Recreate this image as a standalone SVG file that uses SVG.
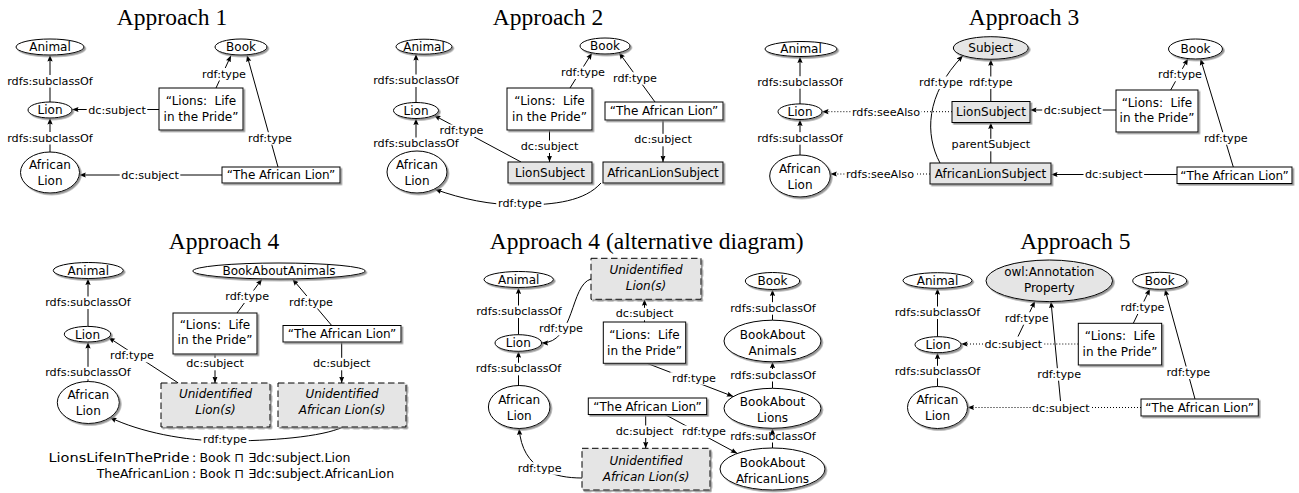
<svg xmlns="http://www.w3.org/2000/svg" width="1299" height="493" viewBox="0 0 1299 493">
<defs>
<style>
.n{fill:#fff;stroke:#000;stroke-width:1;filter:url(#sh)}
.g{fill:#e5e5e5}
.dash{stroke-dasharray:6.5 3.5}
.t{font-family:'DejaVu Sans',sans-serif;font-size:12px;text-anchor:middle;fill:#000}
.i{font-style:italic}
.l{font-family:'DejaVu Sans',sans-serif;font-size:11.2px;text-anchor:middle;fill:#000}
.e{fill:none;stroke:#000;stroke-width:1}
.a{marker-end:url(#ar)}
.dot{stroke-dasharray:1 2}
.lb{fill:#fff}
.ttl{font-family:'Liberation Serif',serif;font-size:23.5px;text-anchor:middle;fill:#000}
.f{font-family:'DejaVu Sans',sans-serif;font-size:12.5px;fill:#000}
</style>
<marker id="ar" viewBox="0 0 10 10" refX="10" refY="5" markerWidth="6.5" markerHeight="6.5" markerUnits="userSpaceOnUse" orient="auto"><path d="M0,1 L10,5 L0,9 L1.5,5 z" fill="#000"/></marker>
<filter id="sh" x="-20%" y="-20%" width="140%" height="140%"><feDropShadow dx="1.6" dy="1.6" stdDeviation="0.6" flood-color="#808080" flood-opacity="0.85"/></filter>
</defs>
<rect width="1299" height="493" fill="#fff"/>

<g id="approach-1">
<text class="ttl" x="172" y="25">Approach 1</text>
<g id="a1-connectors">
<path class="e" d="M50,102V87.5"/><path class="e a" d="M50,75V55"/><text class="l" x="50" y="84.5">rdfs:subclassOf</text>
<path class="e" d="M50,152V144.5"/><path class="e a" d="M50,132V118"/><text class="l" x="50" y="141.5">rdfs:subclassOf</text>
<path class="e" d="M159,109.5H147.3"/><path class="e a" d="M86.7,109.5H72"/><text class="l" x="117" y="113.5">dc:subject</text>
<path class="e a" d="M216,88L231,55.5"/><rect class="lb" x="200.25" y="68" width="47.5" height="12.5"/><text class="l" x="224" y="77.5">rdf:type</text>
<path class="e a" d="M278,167L247,55.3"/><rect class="lb" x="246.25" y="132.2" width="47.5" height="12.5"/><text class="l" x="270" y="141.7">rdf:type</text>
<path class="e" d="M222,175H180.3"/><path class="e a" d="M119.7,175H79.3"/><text class="l" x="150" y="178.5">dc:subject</text>
</g>
<g id="a1-animal"><ellipse class="n" cx="50" cy="47" rx="34" ry="8"/><text class="t" x="50" y="51.4">Animal</text></g>
<g id="a1-book"><ellipse class="n" cx="241" cy="47" rx="26" ry="8"/><text class="t" x="241" y="51.4">Book</text></g>
<g id="a1-lion"><ellipse class="n" cx="50" cy="110" rx="22" ry="8"/><text class="t" x="50" y="114.4">Lion</text></g>
<g id="a1-african-lion"><ellipse class="n" cx="50" cy="172.5" rx="29.5" ry="20.5"/><text class="t" x="50" y="169">African</text><text class="t" x="50" y="185">Lion</text></g>
<g id="a1-book-lions"><rect class="n" x="159" y="88" width="84" height="42"/><text class="t" x="201" y="104.5">“Lions:&#160; Life</text><text class="t" x="201" y="120.5">in the Pride”</text></g>
<g id="a1-book-african"><rect class="n" x="222" y="167" width="118" height="16"/><text class="t" x="281" y="179.4">“The African Lion”</text></g>
</g>

<g id="approach-2">
<text class="ttl" x="548" y="25">Approach 2</text>
<g id="a2-connectors">
<path class="e" d="M416,102.5V87"/><path class="e a" d="M416,74.5V54"/><text class="l" x="416" y="84">rdfs:subclassOf</text>
<path class="e a" d="M416,137.5V118.5"/><text class="l" x="416" y="147">rdfs:subclassOf</text>
<path class="e a" d="M521,162L434,115.3"/><rect class="lb" x="437.75" y="124.5" width="47.5" height="12.5"/><text class="l" x="461.5" y="134">rdf:type</text>
<path class="e a" d="M570,88L592,53"/><rect class="lb" x="559.25" y="66.5" width="47.5" height="12.5"/><text class="l" x="583" y="76">rdf:type</text>
<path class="e a" d="M655,102L619,52.6"/><rect class="lb" x="611.25" y="72.2" width="47.5" height="12.5"/><text class="l" x="635" y="81.7">rdf:type</text>
<path class="e" d="M549.5,130V140.5"/><path class="e a" d="M549.5,153V162"/><text class="l" x="549.5" y="150">dc:subject</text>
<path class="e" d="M663,120V133.8"/><path class="e a" d="M663,146.3V162"/><text class="l" x="663" y="143.3">dc:subject</text>
<path class="e a" d="M601,183C585,201 555,205 520,205C490,205 462,199 435,189.3"/><rect class="lb" x="496.25" y="197" width="47.5" height="12.5"/><text class="l" x="520" y="206.5">rdf:type</text>
</g>
<g id="a2-animal"><ellipse class="n" cx="424" cy="46.7" rx="28" ry="7.5"/><text class="t" x="424" y="51.1">Animal</text></g>
<g id="a2-book"><ellipse class="n" cx="605" cy="46" rx="25" ry="8"/><text class="t" x="605" y="50.4">Book</text></g>
<g id="a2-lion"><ellipse class="n" cx="416" cy="110.5" rx="22.5" ry="8"/><text class="t" x="416" y="114.9">Lion</text></g>
<g id="a2-african-lion"><ellipse class="n" cx="417" cy="172" rx="30" ry="21"/><text class="t" x="417" y="168.5">African</text><text class="t" x="417" y="184.5">Lion</text></g>
<g id="a2-book-lions"><rect class="n" x="507" y="88" width="85" height="42"/><text class="t" x="549.5" y="104.5">“Lions:&#160; Life</text><text class="t" x="549.5" y="120.5">in the Pride”</text></g>
<g id="a2-book-african"><rect class="n" x="605" y="102" width="118" height="18"/><text class="t" x="664" y="115.4">“The African Lion”</text></g>
<g id="a2-lion-subject"><rect class="n g" x="508" y="162" width="84" height="21"/><text class="t" x="550" y="176.9">LionSubject</text></g>
<g id="a2-african-lion-subject"><rect class="n g" x="603" y="162" width="120" height="21"/><text class="t" x="663" y="176.9">AfricanLionSubject</text></g>
</g>

<g id="approach-3">
<text class="ttl" x="1024" y="25">Approach 3</text>
<g id="a3-connectors">
<path class="e" d="M800,104V88.7"/><path class="e a" d="M800,76.2V56.5"/><text class="l" x="800" y="85.7">rdfs:subclassOf</text>
<path class="e" d="M800,155V144.7"/><path class="e a" d="M800,132.2V119.5"/><text class="l" x="800" y="141.7">rdfs:subclassOf</text>
<path class="e dot" d="M952,111.7H921.65"/><path class="e dot a" d="M850.35,111.7H822"/><text class="l" x="886" y="115.5">rdfs:seeAlso</text>
<path class="e dot" d="M930,174H915.65"/><path class="e dot a" d="M844.35,174H830.3"/><text class="l" x="880" y="178.3">rdfs:seeAlso</text>
<path class="e" d="M990.8,101.5V89"/><path class="e a" d="M990.8,76.5V59.3"/><text class="l" x="990.8" y="86">rdf:type</text>
<path class="e" d="M990.8,163V151.3"/><path class="e a" d="M990.8,138.8V122.5"/><text class="l" x="990.8" y="148.3">parentSubject</text>
<path class="e a" d="M940,163C925,135 925,95 963,55.6"/><rect class="lb" x="917.25" y="76.5" width="47.5" height="12.5"/><text class="l" x="941" y="86">rdf:type</text>
<path class="e" d="M1116,110H1102.8"/><path class="e a" d="M1042.2,110H1030"/><text class="l" x="1072.5" y="113.8">dc:subject</text>
<path class="e a" d="M1170.7,90L1188,58.6"/><rect class="lb" x="1156.25" y="68.8" width="47.5" height="12.5"/><text class="l" x="1180" y="78.3">rdf:type</text>
<path class="e a" d="M1233.3,167L1200.5,58.8"/><rect class="lb" x="1202.05" y="132.2" width="47.5" height="12.5"/><text class="l" x="1225.8" y="141.7">rdf:type</text>
<path class="e" d="M1177,174.5H1144.1"/><path class="e a" d="M1083.5,174.5H1051"/><text class="l" x="1113.8" y="178.3">dc:subject</text>
</g>
<g id="a3-animal"><ellipse class="n" cx="801" cy="49" rx="36" ry="7.5"/><text class="t" x="801" y="53.4">Animal</text></g>
<g id="a3-lion"><ellipse class="n" cx="800" cy="111.7" rx="22" ry="7.8"/><text class="t" x="800" y="116.1">Lion</text></g>
<g id="a3-african-lion"><ellipse class="n" cx="800" cy="176" rx="30.3" ry="21"/><text class="t" x="800" y="172.5">African</text><text class="t" x="800" y="188.5">Lion</text></g>
<g id="a3-subject"><ellipse class="n g" cx="990.8" cy="48" rx="37.5" ry="11.3"/><text class="t" x="990.8" y="52.4">Subject</text></g>
<g id="a3-lion-subject"><rect class="n g" x="952" y="101.5" width="78" height="21"/><text class="t" x="991" y="116.4">LionSubject</text></g>
<g id="a3-african-lion-subject"><rect class="n g" x="930" y="163" width="121" height="21"/><text class="t" x="990.5" y="177.9">AfricanLionSubject</text></g>
<g id="a3-book"><ellipse class="n" cx="1195.5" cy="49" rx="27" ry="10"/><text class="t" x="1195.5" y="53.4">Book</text></g>
<g id="a3-book-lions"><rect class="n" x="1116" y="90" width="82" height="42"/><text class="t" x="1157" y="106.5">“Lions:&#160; Life</text><text class="t" x="1157" y="122">in the Pride”</text></g>
<g id="a3-book-african"><rect class="n" x="1177" y="167" width="115" height="16.5"/><text class="t" x="1234.5" y="179.7">“The African Lion”</text></g>
</g>

<g id="approach-4">
<text class="ttl" x="224" y="249.3">Approach 4</text>
<g id="a4-connectors">
<path class="e" d="M88,326.5V309"/><path class="e a" d="M88,296.5V278.5"/><text class="l" x="88" y="306">rdfs:subclassOf</text>
<path class="e" d="M88,381.5V379.3"/><path class="e a" d="M88,366.8V342"/><text class="l" x="88" y="376.3">rdfs:subclassOf</text>
<path class="e a" d="M237,313L262,279"/><rect class="lb" x="223.45" y="290.5" width="47.5" height="12.5"/><text class="l" x="247.2" y="300">rdf:type</text>
<path class="e a" d="M331.7,325.5L292.5,279"/><rect class="lb" x="287.25" y="296" width="47.5" height="12.5"/><text class="l" x="311" y="305.5">rdf:type</text>
<path class="e" d="M215,354V357.8"/><path class="e a" d="M215,370.3V383"/><text class="l" x="215" y="367.3">dc:subject</text>
<path class="e" d="M341.7,342V357.8"/><path class="e a" d="M341.7,370.3V383"/><text class="l" x="341.7" y="367.3">dc:subject</text>
<path class="e a" d="M178.3,383L108.5,337.5"/><rect class="lb" x="108.25" y="349.8" width="47.5" height="12.5"/><text class="l" x="132" y="359.3">rdf:type</text>
<path class="e a" d="M343,427C322,437 270,441 225,441C185,441 140,432 110,417.5"/><rect class="lb" x="201.25" y="433.2" width="47.5" height="12.5"/><text class="l" x="225" y="442.7">rdf:type</text>
</g>
<g id="a4-animal"><ellipse class="n" cx="88.3" cy="270.5" rx="35" ry="8"/><text class="t" x="88.3" y="274.9">Animal</text></g>
<g id="a4-lion"><ellipse class="n" cx="87.5" cy="334.2" rx="23.2" ry="7.8"/><text class="t" x="87.5" y="338.6">Lion</text></g>
<g id="a4-african-lion"><ellipse class="n" cx="88.3" cy="402.5" rx="31" ry="21"/><text class="t" x="88.3" y="399">African</text><text class="t" x="88.3" y="415">Lion</text></g>
<g id="a4-book-about-animals"><ellipse class="n" cx="279" cy="271" rx="86.2" ry="8"/><text class="t" x="279" y="275.4">BookAboutAnimals</text></g>
<g id="a4-book-lions"><rect class="n" x="173" y="313" width="84" height="41"/><text class="t" x="215" y="328.5">“Lions:&#160; Life</text><text class="t" x="215" y="344.3">in the Pride”</text></g>
<g id="a4-book-african"><rect class="n" x="283" y="325.5" width="118" height="16.5"/><text class="t" x="342" y="338.2">“The African Lion”</text></g>
<g id="a4-unidentified-lions"><rect class="n g dash" x="161" y="383" width="109" height="44"/><text class="t i" x="215.5" y="398">Unidentified</text><text class="t i" x="215.5" y="414">Lion(s)</text></g>
<g id="a4-unidentified-african-lions"><rect class="n g dash" x="278" y="383" width="128" height="44"/><text class="t i" x="342" y="398">Unidentified</text><text class="t i" x="342" y="414">African Lion(s)</text></g>
<g id="a4-definitions">
<text class="f" x="48.5" y="462" textLength="141" lengthAdjust="spacingAndGlyphs">LionsLifeInThePride</text><text class="f" x="194" y="462" text-anchor="middle">:</text><text class="f" x="199.5" y="462">Book ⊓ ∃dc:subject.Lion</text>
<text class="f" x="189.5" y="478" text-anchor="end">TheAfricanLion</text><text class="f" x="194" y="478" text-anchor="middle">:</text><text class="f" x="199.5" y="478">Book ⊓ ∃dc:subject.AfricanLion</text>
</g>
</g>

<g id="approach-4-alt">
<text class="ttl" x="646.7" y="249.3">Approach 4 (alternative diagram)</text>
<g id="a4b-connectors">
<path class="e" d="M518.5,334.7V318"/><path class="e a" d="M518.5,305.5V287.5"/><text class="l" x="519" y="315">rdfs:subclassOf</text>
<path class="e" d="M518.5,385.5V375.3"/><path class="e a" d="M518.5,362.8V351.3"/><text class="l" x="518.5" y="372.3">rdfs:subclassOf</text>
<path class="e a" d="M591,279C570,285 575,343 541.6,343"/><rect class="lb" x="537.25" y="322.8" width="47.5" height="12.5"/><text class="l" x="561" y="332.3">rdf:type</text>
<path class="e" d="M644.5,322V320.3"/><path class="e a" d="M644.5,307.8V299.3"/><text class="l" x="644.5" y="317.3">dc:subject</text>
<path class="e a" d="M647,363.3L733.3,396.5"/><rect class="lb" x="670.25" y="372.2" width="47.5" height="12.5"/><text class="l" x="694" y="381.7">rdf:type</text>
<path class="e" d="M645.7,414.5V425.5"/><path class="e a" d="M645.7,438V448.3"/><text class="l" x="644.5" y="435">dc:subject</text>
<path class="e a" d="M665,414.5L737.3,453.4"/><rect class="lb" x="680.25" y="425.5" width="47.5" height="12.5"/><text class="l" x="704" y="435">rdf:type</text>
<path class="e a" d="M582,478C555,478 522,470 519.2,428.5"/><rect class="lb" x="515.95" y="462.2" width="47.5" height="12.5"/><text class="l" x="539.7" y="471.7">rdf:type</text>
<path class="e" d="M772.5,320.2V314.7"/><path class="e a" d="M772.5,302.2V289.5"/><text class="l" x="773" y="311.7">rdfs:subclassOf</text>
<path class="e" d="M772.5,388.3V381.5"/><path class="e a" d="M772.5,369V361.8"/><text class="l" x="773" y="378.5">rdfs:subclassOf</text>
<path class="e" d="M772.5,448V442.5"/><path class="e a" d="M772.5,429.5V428.3"/><text class="l" x="773" y="439.5">rdfs:subclassOf</text>
</g>
<g id="a4b-animal"><ellipse class="n" cx="518.7" cy="279.5" rx="34.7" ry="8"/><text class="t" x="518.7" y="283.9">Animal</text></g>
<g id="a4b-lion"><ellipse class="n" cx="518.3" cy="343" rx="23.3" ry="8.3"/><text class="t" x="518.3" y="347.4">Lion</text></g>
<g id="a4b-african-lion"><ellipse class="n" cx="519.2" cy="407" rx="30.8" ry="21.5"/><text class="t" x="519.2" y="403.5">African</text><text class="t" x="519.2" y="419.5">Lion</text></g>
<g id="a4b-unidentified-lions"><rect class="n g dash" x="591" y="258.3" width="110" height="41"/><text class="t i" x="646" y="274">Unidentified</text><text class="t i" x="646" y="290">Lion(s)</text></g>
<g id="a4b-book-lions"><rect class="n" x="603.3" y="322" width="82.4" height="41.3"/><text class="t" x="644.5" y="338.5">“Lions:&#160; Life</text><text class="t" x="644.5" y="354.5">in the Pride”</text></g>
<g id="a4b-book-african"><rect class="n" x="588.3" y="398" width="118.4" height="16.5"/><text class="t" x="647.5" y="410.6">“The African Lion”</text></g>
<g id="a4b-unidentified-african-lions"><rect class="n g dash" x="582" y="448.3" width="128" height="41.7"/><text class="t i" x="646" y="465">Unidentified</text><text class="t i" x="646" y="481">African Lion(s)</text></g>
<g id="a4b-book"><ellipse class="n" cx="772.5" cy="281" rx="27.2" ry="8.5"/><text class="t" x="772.5" y="285.4">Book</text></g>
<g id="a4b-book-about-animals"><ellipse class="n" cx="772.5" cy="341" rx="48.5" ry="20.8"/><text class="t" x="772.5" y="338.5">BookAbout</text><text class="t" x="772.5" y="354.5">Animals</text></g>
<g id="a4b-book-about-lions"><ellipse class="n" cx="772.5" cy="408.3" rx="48.5" ry="20"/><text class="t" x="772.5" y="405.8">BookAbout</text><text class="t" x="772.5" y="421.8">Lions</text></g>
<g id="a4b-book-about-african-lions"><ellipse class="n" cx="772.5" cy="469" rx="52.5" ry="21"/><text class="t" x="772.5" y="466.5">BookAbout</text><text class="t" x="772.5" y="482.5">AfricanLions</text></g>
</g>

<g id="approach-5">
<text class="ttl" x="1075.3" y="249.3">Approach 5</text>
<g id="a5-connectors">
<path class="e" d="M937.5,336.7V319"/><path class="e a" d="M937.5,306.5V288.3"/><text class="l" x="937.5" y="316">rdfs:subclassOf</text>
<path class="e" d="M937.5,386.5V378.3"/><path class="e a" d="M937.5,365.8V352.7"/><text class="l" x="937.5" y="375.3">rdfs:subclassOf</text>
<path class="e dot" d="M1078.3,344H1043.6"/><path class="e dot a" d="M983,344H961"/><text class="l" x="1013.3" y="347.7">dc:subject</text>
<path class="e dot" d="M1141,407.5H1091.1"/><path class="e dot a" d="M1030.5,407.5H967.5"/><text class="l" x="1060.8" y="411.7">dc:subject</text>
<path class="e a" d="M1133.3,323.3L1150,288.7"/><rect class="lb" x="1118.75" y="301.5" width="47.5" height="12.5"/><text class="l" x="1142.5" y="311">rdf:type</text>
<path class="e a" d="M1018,336.5L1035,301.1"/><rect class="lb" x="1002.95" y="312.2" width="47.5" height="12.5"/><text class="l" x="1026.7" y="321.7">rdf:type</text>
<path class="e a" d="M1060.5,401L1051,301.6"/><rect class="lb" x="1035.45" y="368.2" width="47.5" height="12.5"/><text class="l" x="1059.2" y="377.7">rdf:type</text>
<path class="e a" d="M1195,399L1165,289.1"/><rect class="lb" x="1164.55" y="366.5" width="47.5" height="12.5"/><text class="l" x="1188.3" y="376">rdf:type</text>
</g>
<g id="a5-animal"><ellipse class="n" cx="937.5" cy="280.5" rx="34.5" ry="7.8"/><text class="t" x="937.5" y="284.9">Animal</text></g>
<g id="a5-lion"><ellipse class="n" cx="938" cy="344.7" rx="23" ry="8"/><text class="t" x="938" y="349.1">Lion</text></g>
<g id="a5-african-lion"><ellipse class="n" cx="937.5" cy="407.5" rx="30" ry="21"/><text class="t" x="937.5" y="404">African</text><text class="t" x="937.5" y="420">Lion</text></g>
<g id="a5-annotation-property"><ellipse class="n g" cx="1049.3" cy="280.8" rx="63.3" ry="20.8"/><text class="t" x="1049.3" y="276">owl:Annotation</text><text class="t" x="1049.3" y="292">Property</text></g>
<g id="a5-book"><ellipse class="n" cx="1159.7" cy="280.8" rx="27" ry="8.5"/><text class="t" x="1159.7" y="285.2">Book</text></g>
<g id="a5-book-lions"><rect class="n" x="1078.3" y="323.3" width="83.4" height="41.7"/><text class="t" x="1120" y="339.7">“Lions:&#160; Life</text><text class="t" x="1120" y="355.5">in the Pride”</text></g>
<g id="a5-book-african"><rect class="n" x="1141" y="399" width="117.3" height="17"/><text class="t" x="1199.6" y="411.9">“The African Lion”</text></g>
</g>
</svg>
